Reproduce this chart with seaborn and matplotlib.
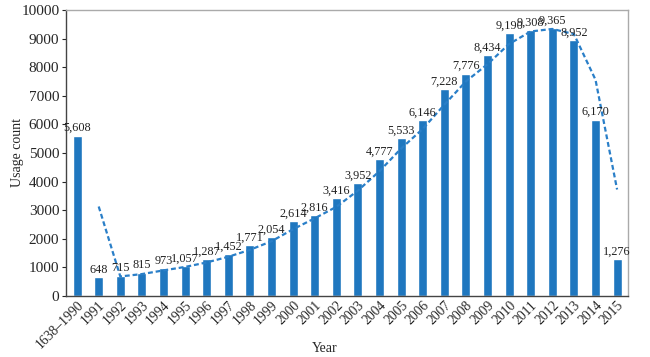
import matplotlib
matplotlib.use("Agg")
import matplotlib.pyplot as plt
import seaborn as sns
import pandas as pd

years = ["1638\u20131990", "1991", "1992", "1993", "1994", "1995", "1996", "1997", "1998",
         "1999", "2000", "2001", "2002", "2003", "2004", "2005", "2006", "2007", "2008",
         "2009", "2010", "2011", "2012", "2013", "2014", "2015"]
counts = [5608, 648, 715, 815, 973, 1057, 1287, 1452, 1771, 2054, 2614, 2816, 3416,
          3952, 4777, 5533, 6146, 7228, 7776, 8434, 9190, 9308, 9365, 8952, 6170, 1276]
# dashed trend line (starts at 1991)
trend = [3128, 682, 765, 894, 1015, 1172, 1370, 1612, 1913, 2334, 2715, 3116, 3684,
         4365, 5155, 5840, 6687, 7502, 8105, 8812, 9249, 9337, 9159, 7561, 3723]

sns.set_style("white")
plt.rcParams['font.family'] = ['Liberation Serif', 'DejaVu Serif']

df = pd.DataFrame({"Year": years, "Count": counts})

fig, ax = plt.subplots(figsize=(6.5, 3.57), dpi=100)
fig.subplots_adjust(left=0.102, right=0.966, top=0.972, bottom=0.171)

bar_color = "#1f77bf"
sns.barplot(data=df, x="Year", y="Count", color=bar_color, saturation=1, width=0.42, ax=ax)
ax.plot(range(1, len(years)), trend, linestyle=(0, (2.2, 1.3)), color="#2a7fc8", linewidth=1.6)

for i, v in enumerate(counts):
    ax.text(i, v + 50, f"{v:,}", ha="center", va="bottom", fontsize=8.8, color="#222222")

ax.set_xlim(-0.5, len(years) - 0.5)
ax.set_ylim(0, 10000)
ax.set_yticks(range(0, 10001, 1000))
ax.tick_params(axis="y", labelsize=11, length=3, direction="out", left=True, pad=2)
ax.tick_params(axis="x", labelsize=9.8, length=0, pad=2)
plt.setp(ax.get_xticklabels(), rotation=45, ha="right", rotation_mode="anchor")

ax.set_xlabel("Year", fontsize=10)
ax.set_ylabel("Usage count", fontsize=10)
ax.xaxis.set_label_coords(0.46, -0.16)
ax.yaxis.set_label_coords(-0.075, 0.5)

for s in ["left", "bottom"]:
    ax.spines[s].set_color("#444444")
    ax.spines[s].set_linewidth(1.0)
for s in ["top", "right"]:
    ax.spines[s].set_color("#aaaaaa")
    ax.spines[s].set_linewidth(1.0)

fig.savefig("out.png", dpi=100)
